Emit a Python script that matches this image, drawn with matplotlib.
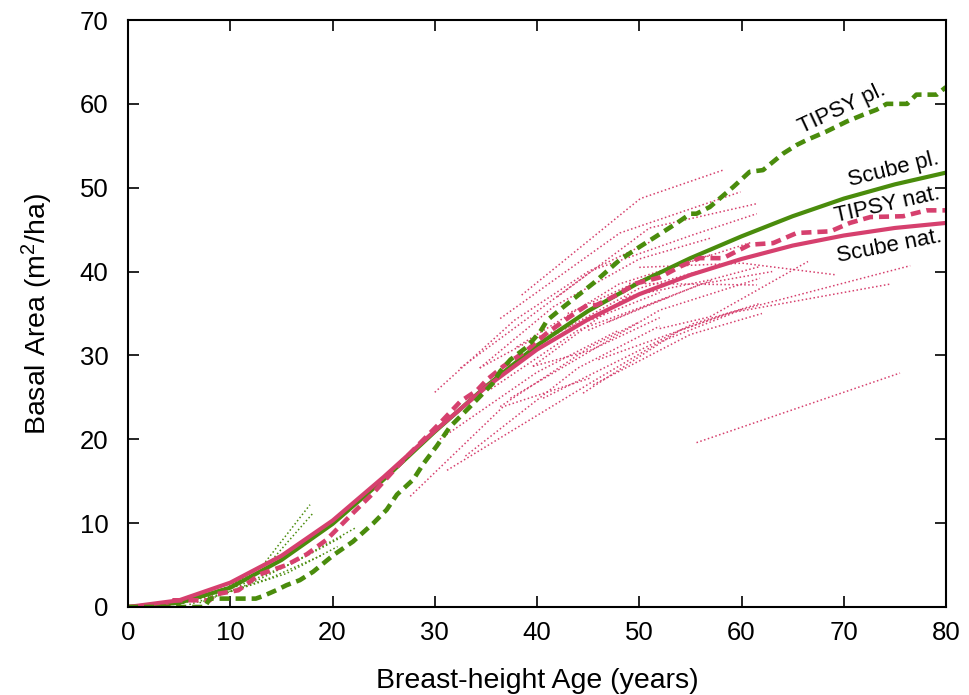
import matplotlib
matplotlib.use("Agg")
import matplotlib.pyplot as plt

plt.rcParams["font.family"] = ["Liberation Sans", "DejaVu Sans"]
plt.rcParams["mathtext.fontset"] = "custom"
plt.rcParams["mathtext.rm"] = "Liberation Sans"
plt.rcParams["mathtext.it"] = "Liberation Sans:italic"

PINK = "#d6406e"
GREEN = "#4a8c0c"

# Scube model curves (basal area by breast-height age)
scube_ages = [0, 5, 10, 15, 20, 25, 30, 35, 40, 45, 50, 55, 60, 65, 70, 75, 80]
scube_nat = [0, 0.8, 2.9, 6.1, 10.3, 15.5, 21.0, 26.2, 30.7, 34.3, 37.3, 39.6, 41.5, 43.1, 44.3, 45.2, 45.8]
scube_pl = [0, 0.5, 2.3, 5.6, 9.9, 15.2, 20.9, 26.3, 31.2, 35.3, 38.7, 41.6, 44.2, 46.6, 48.7, 50.4, 51.8]

# TIPSY yield tables
tipsy_pl_ages = [0, 7.5, 8, 12.5, 13.2, 14.5, 15.5, 16.8, 18.1, 20.1, 22.0, 24.0, 25.3, 26.3,
                 27.9, 28.9, 30.2, 31.5, 33.3, 34.5, 35.7, 36.4, 37.4, 39.0, 40.3, 41.0, 42.6,
                 45.5, 48.1, 50.1, 51.4, 53.7, 55.0, 55.6, 56.9, 59.2, 60.8, 62.1, 64.1, 65.4,
                 66.4, 68.3, 70.3, 71.9, 73.2, 74.2, 76.2, 77.1, 79.1, 80]
tipsy_pl = [0, 0, 1.0, 1.0, 1.3, 2.0, 2.6, 3.2, 4.2, 6.2, 7.8, 10.0, 11.6, 13.4,
            15.2, 17.1, 19.2, 21.5, 23.7, 25.2, 26.7, 28.1, 29.5, 31.0, 32.8, 34.2, 35.8,
            38.6, 41.4, 43.0, 44.0, 45.8, 46.9, 46.9, 47.7, 50.1, 51.9, 52.1, 54.1, 55.1,
            55.7, 56.7, 57.9, 58.7, 59.3, 60.0, 60.0, 61.1, 61.1, 62.0]

tipsy_nat_ages = [0, 3.8, 4.2, 8.0, 8.5, 10.8, 12.9, 15.5, 17.5, 19.4, 20.7, 22.0, 24.0, 26.3,
                  28.2, 30.8, 32.5, 34.1, 35.1, 36.7, 39.0, 40.9, 43.2, 44.9, 45.8, 48.1,
                  49.7, 52.0, 54.0, 55.9, 58.2, 59.5, 60.8, 63.1, 65.4, 68.7, 70.6, 72.6,
                  75.8, 78.1, 80]
tipsy_nat = [0, 0, 0.8, 0.8, 1.5, 2.0, 3.9, 5.0, 6.3, 8.0, 9.6, 11.2, 13.6, 16.7,
             19.1, 22.3, 24.5, 25.8, 27.1, 28.7, 30.6, 32.6, 34.6, 36.0, 36.0, 37.4,
             38.6, 39.3, 40.6, 41.6, 41.6, 42.4, 43.2, 43.4, 44.6, 44.8, 45.8, 46.5,
             46.6, 47.3, 47.3]

# Remeasured natural-stand plots
nat_plot_ages = [
    [38.5, 50.1, 58.2], [36.4, 48.1, 59.9], [32.5, 45.5, 55.3, 61.5],
    [30.0, 37.8, 45.0, 51.0], [34.4, 41.6, 50.0, 57.0], [39.6, 48.8, 56.9, 61.8],
    [37.4, 52.0, 61.8], [40.6, 55.3, 61.8], [27.6, 36.7, 45.2],
    [31.2, 45.2, 52.0, 59.5, 74.5], [44.5, 54.0, 60.0], [52.0, 56.9, 66.5],
    [55.6, 75.5], [49.0, 61.5], [45.0, 52.0, 57.2], [50.0, 60.1, 69.3],
    [34.4, 40.0, 45.2, 52.0], [39.6, 45.2, 52.0], [36.4, 45.2, 50.0],
    [46.0, 58.6, 76.5], [42.0, 51.0, 61.5], [33.0, 44.0, 52.0],
    [38.0, 48.0, 57.0], [41.0, 50.0, 60.0], [43.0, 52.0, 61.0],
    [35.5, 44.0, 53.0], [47.0, 56.0, 63.0], [30.5, 40.0, 48.0],
    [45.5, 55.0, 62.0],
]
nat_plot_ba = [
    [37.2, 48.7, 52.1], [34.4, 44.6, 49.5], [28.5, 40.2, 44.4, 46.9],
    [25.6, 34.2, 40.0, 43.5], [28.5, 35.8, 41.5, 44.0], [28.7, 37.0, 39.0, 40.6],
    [24.9, 35.4, 39.2], [24.9, 33.8, 36.2], [13.2, 23.9, 27.3],
    [16.3, 26.7, 31.6, 35.2, 38.5], [25.5, 33.0, 35.5], [33.2, 34.6, 41.2],
    [19.6, 27.9], [38.6, 38.4], [33.0, 36.6, 39.0], [40.5, 41.0, 39.6],
    [28.5, 32.2, 34.2, 37.5], [28.7, 30.6, 34.5], [23.9, 31.0, 34.0],
    [29.5, 35.0, 40.7], [37.0, 45.2, 48.1], [18.0, 28.5, 33.5],
    [31.0, 38.5, 42.0], [32.0, 38.0, 41.5], [35.0, 40.0, 43.5],
    [26.0, 33.0, 37.0], [34.0, 38.5, 40.0], [20.0, 28.0, 33.0],
    [26.5, 32.5, 35.0],
]

# Remeasured plantation plots
pl_plot_ages = [
    [4, 9, 13.2, 17.8], [5, 10, 14, 18.1], [5, 11, 16, 22.2],
    [6, 11, 15.5, 20.5], [4, 9, 14, 19], [7, 12, 17, 21],
]
pl_plot_ba = [
    [0.3, 1.8, 5.0, 12.2], [0.4, 2.5, 5.5, 11.2], [0.3, 2.6, 5.2, 9.4],
    [0.3, 2.2, 4.0, 7.2], [0.2, 1.5, 3.5, 6.2], [0.5, 2.8, 5.8, 8.4],
]

fig = plt.figure(figsize=(9.69, 6.95), dpi=100)
ax = fig.add_axes([128 / 969, 88 / 695, 818 / 969, 587 / 695])

dot = (0, (1, 1.6))
for a, b in zip(nat_plot_ages, nat_plot_ba):
    ax.plot(a, b, color=PINK, lw=1.1, linestyle=dot)
for a, b in zip(pl_plot_ages, pl_plot_ba):
    ax.plot(a, b, color=GREEN, lw=1.1, linestyle=dot)

ax.plot(scube_ages, scube_pl, color=GREEN, lw=3.0, solid_capstyle="butt")
ax.plot(scube_ages, scube_nat, color=PINK, lw=3.0, solid_capstyle="butt")
ax.plot(tipsy_nat_ages, tipsy_nat, color=PINK, lw=3.3, linestyle=(0, (2.2, 1.3)))
ax.plot(tipsy_pl_ages, tipsy_pl, color=GREEN, lw=3.3, linestyle=(0, (2.2, 1.3)))

lab_kw = dict(fontsize=16, ha="center", va="center", rotation_mode="anchor")
ax.text(69.8, 59.4, "TIPSY pl.", rotation=25, **lab_kw)
ax.text(74.9, 52.2, "Scube pl.", rotation=14, **lab_kw)
ax.text(74.3, 47.9, "TIPSY nat.", rotation=12.5, **lab_kw)
ax.text(74.5, 43.0, "Scube nat.", rotation=11, **lab_kw)

ax.set_xlim(0, 80)
ax.set_ylim(0, 70)
ax.set_xticks(range(0, 81, 10))
ax.set_yticks(range(0, 71, 10))
ax.tick_params(direction="in", length=8, width=1.2, top=True, right=True,
               labelsize=18.5, pad=10)
ax.tick_params(axis="y", pad=14)
for s in ax.spines.values():
    s.set_linewidth(1.5)

ax.set_xlabel("Breast-height Age (years)", fontsize=20.5, labelpad=17)
ax.set_ylabel("Basal Area (m$^2$/ha)", fontsize=20.5, labelpad=18)

fig.savefig("out.png", dpi=100)
